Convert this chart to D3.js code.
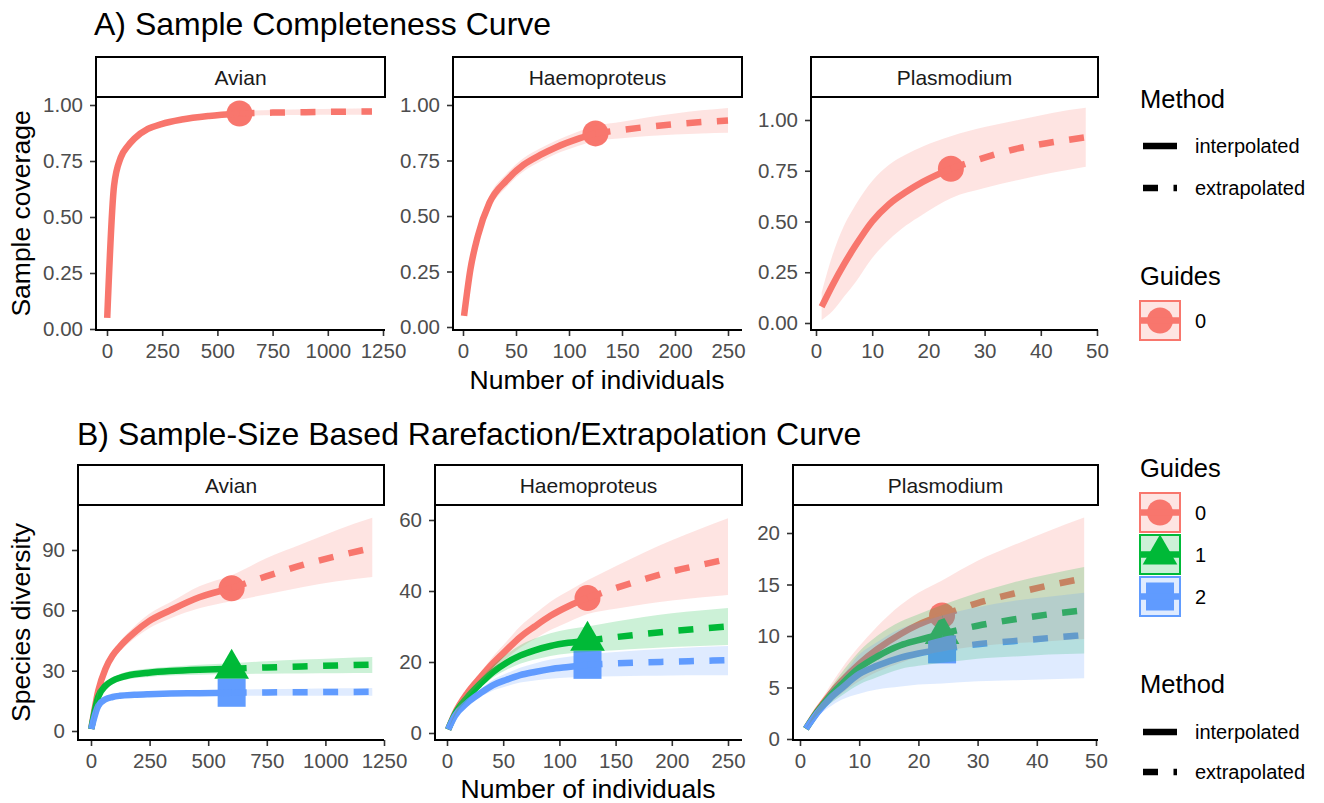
<!DOCTYPE html>
<html lang="en">
<head>
<meta charset="utf-8">
<title>Sample completeness and rarefaction curves</title>
<script src="https://d3js.org/d3.v7.min.js"></script>
<style>
body { margin: 0; background: #fff; }
svg text { font-family: "Liberation Sans", Arial, sans-serif; }
</style>
</head>
<body>
<svg width="1324" height="803"></svg>
<script>
// ---- data ----
var sites = ["Avian", "Haemoproteus", "Plasmodium"];
var refN = [600, 125, 24];              // observed sample sizes
var guideLabels = ["0", "1", "2"];
var guideColors = ["#F8766D", "#00BA38", "#619CFF"];
var methodLabels = ["interpolated", "extrapolated"];

var xTicksAvian = [0, 250, 500, 750, 1000, 1250];
var xTicksHaemo = [0, 50, 100, 150, 200, 250];
var xTicksPlas = [0, 10, 20, 30, 40, 50];
var covTicks = [0, 0.25, 0.5, 0.75, 1];
var divTicksAvian = [0, 30, 60, 90];
var divTicksHaemo = [0, 20, 40, 60];
var divTicksPlas = [0, 5, 10, 15, 20];

// A) sample coverage
var covAvianN  = [1, 32, 62, 93, 124, 185, 247, 339, 462, 600, 750, 900, 1050, 1200];
var covAvianSC = [0.05, 0.64, 0.765, 0.815, 0.85, 0.893, 0.915, 0.935, 0.951, 0.962, 0.966, 0.968, 0.970, 0.971];
var covAvianLo = [0.045, 0.625, 0.752, 0.803, 0.839, 0.883, 0.905, 0.926, 0.942, 0.952, 0.954, 0.955, 0.956, 0.957];
var covAvianHi = [0.055, 0.655, 0.778, 0.827, 0.861, 0.903, 0.925, 0.944, 0.960, 0.972, 0.978, 0.981, 0.983, 0.985];

var covHaemoN  = [1, 7, 14, 25, 41, 57, 73, 88, 107, 125, 150, 175, 200, 225, 250];
var covHaemoSC = [0.05, 0.26, 0.41, 0.56, 0.66, 0.73, 0.775, 0.81, 0.845, 0.872, 0.888, 0.902, 0.914, 0.923, 0.93];
var covHaemoLo = [0.04, 0.235, 0.38, 0.53, 0.63, 0.70, 0.745, 0.78, 0.813, 0.838, 0.85, 0.86, 0.867, 0.872, 0.875];
var covHaemoHi = [0.06, 0.285, 0.44, 0.59, 0.69, 0.76, 0.805, 0.84, 0.877, 0.906, 0.925, 0.945, 0.962, 0.976, 0.987];

var covPlasN  = [1, 3, 5, 7, 10, 13, 16, 19, 24, 30, 36, 42, 48];
var covPlasSC = [0.08, 0.19, 0.29, 0.38, 0.50, 0.585, 0.645, 0.695, 0.76, 0.815, 0.86, 0.89, 0.915];
var covPlasLo = [0.015, 0.06, 0.13, 0.20, 0.32, 0.41, 0.48, 0.535, 0.615, 0.665, 0.705, 0.74, 0.77];
var covPlasHi = [0.15, 0.34, 0.48, 0.58, 0.70, 0.78, 0.83, 0.87, 0.92, 0.965, 1.0, 1.035, 1.06];

// B) species diversity (q = 0, 1, 2)
var divAvianN    = [1, 31, 62, 92, 123, 185, 246, 338, 462, 600, 750, 900, 1050, 1200];
var divAvianQ0   = [1, 20, 31, 37.5, 42, 49, 54.5, 60, 66.5, 71, 77, 82.5, 87, 91];
var divAvianQ0Lo = [1, 19, 29.5, 35.5, 39.5, 46, 51, 56, 61, 64.5, 68, 71.5, 74.5, 76.6];
var divAvianQ0Hi = [1, 21, 32.5, 39.5, 44.5, 52, 58, 64, 72, 77.5, 86, 93, 100, 106];
var divAvianQ1   = [1, 17, 22.5, 25, 26.5, 28.2, 29, 29.8, 30.5, 31, 31.6, 32.1, 32.6, 33];
var divAvianQ1Lo = [1, 16, 21, 23.3, 24.7, 26.2, 26.9, 27.6, 28, 28.3, 28.5, 28.6, 28.7, 28.8];
var divAvianQ1Hi = [1, 18, 24, 26.7, 28.3, 30.2, 31.1, 32, 33, 33.7, 34.7, 35.5, 36.2, 36.8];
var divAvianQ2   = [1, 12.5, 15.8, 16.9, 17.5, 18, 18.3, 18.6, 18.8, 19, 19.2, 19.3, 19.4, 19.5];
var divAvianQ2Lo = [1, 11.8, 15, 16, 16.5, 16.9, 17.1, 17.3, 17.4, 17.5, 17.5, 17.5, 17.5, 17.5];
var divAvianQ2Hi = [1, 13.2, 16.6, 17.8, 18.5, 19.1, 19.5, 19.9, 20.2, 20.5, 20.8, 21, 21.2, 21.4];

var divHaemoN    = [1, 7, 18, 30, 41, 53, 65, 78, 92, 108, 125, 150, 175, 200, 225, 250];
var divHaemoQ0   = [1, 5.5, 11.2, 15.8, 19.7, 23.4, 27, 30, 33, 35.7, 38, 40.8, 43.3, 45.5, 47.3, 49];
var divHaemoQ0Lo = [1, 5, 10.2, 14.4, 17.8, 21, 24, 26.5, 29, 31.3, 33.5, 35, 36.3, 37.3, 38.2, 38.9];
var divHaemoQ0Hi = [1, 6, 12.2, 17.2, 21.6, 25.8, 30, 33.5, 37, 40, 43, 47, 50.8, 54.3, 57.5, 60.5];
var divHaemoQ1   = [1, 5.2, 10, 14, 17.2, 19.8, 21.8, 23.3, 24.5, 25.4, 26, 27, 27.9, 28.7, 29.4, 30];
var divHaemoQ1Lo = [1, 4.8, 9.3, 12.8, 15.6, 17.8, 19.5, 20.7, 21.7, 22.4, 22.8, 23.3, 23.8, 24.2, 24.5, 24.8];
var divHaemoQ1Hi = [1, 5.6, 10.8, 15.4, 19.1, 22.2, 24.7, 26.6, 28.1, 29.2, 30, 31.4, 32.7, 33.7, 34.5, 35.2];
var divHaemoQ2   = [1, 4.8, 8.5, 11.3, 13.5, 15, 16.3, 17.2, 18, 18.6, 19.2, 19.6, 19.9, 20.1, 20.3, 20.5];
var divHaemoQ2Lo = [1, 4.4, 7.8, 10.2, 12, 13.2, 14.2, 14.8, 15.3, 15.6, 15.8, 16, 16.1, 16.2, 16.25, 16.3];
var divHaemoQ2Hi = [1, 5.2, 9.2, 12.4, 15, 16.8, 18.4, 19.6, 20.7, 21.5, 22.2, 22.8, 23.4, 23.8, 24.2, 24.5];

var divPlasN    = [1, 3, 5, 7, 10, 13, 17, 20, 24, 30, 36, 42, 48];
var divPlasQ0   = [1, 2.8, 4.3, 5.6, 7.3, 8.7, 10.2, 11.1, 12, 13.2, 14.1, 14.9, 15.6];
var divPlasQ0Lo = [1, 2.4, 3.5, 4.4, 5.6, 6.5, 7.4, 8, 8.5, 9, 9.3, 9.5, 9.7];
var divPlasQ0Hi = [1, 3.2, 5.1, 6.8, 9.0, 10.9, 13, 14.2, 15.4, 17.3, 18.8, 20.2, 21.5];
var divPlasQ1   = [1, 2.7, 4.1, 5.3, 6.9, 8, 9.1, 9.6, 10.2, 11, 11.6, 12.1, 12.5];
var divPlasQ1Lo = [1, 2.4, 3.4, 4.2, 5.3, 6, 6.8, 7.1, 7.4, 7.8, 8, 8.2, 8.3];
var divPlasQ1Hi = [1, 3, 4.8, 6.4, 8.5, 10, 11.4, 12.1, 13, 14.2, 15.2, 16, 16.7];
var divPlasQ2   = [1, 2.6, 3.9, 4.9, 6.3, 7.1, 7.9, 8.3, 8.7, 9.2, 9.5, 9.8, 10.1];
var divPlasQ2Lo = [1, 2.2, 3.1, 3.8, 4.4, 4.8, 5.1, 5.3, 5.4, 5.6, 5.7, 5.8, 5.9];
var divPlasQ2Hi = [1, 3, 4.7, 6, 8.2, 9.4, 10.7, 11.3, 12, 12.8, 13.4, 13.8, 14.2];

// ---- layout (pixel boxes; scales pinned by two tick anchors) ----
var layoutA = [
  {left: 96,  right: 385,  top: 97, bottom: 330, xa: [0, 107, 1250, 383], ya: [0, 329, 1, 105]},
  {left: 453, right: 742,  top: 97, bottom: 330, xa: [0, 463, 250, 728],  ya: [0, 327, 1, 105]},
  {left: 811, right: 1098, top: 97, bottom: 330, xa: [0, 816, 50, 1097],  ya: [0, 323, 1, 120]}
];
var layoutB = [
  {left: 78,  right: 384,  top: 505, bottom: 740, xa: [0, 91, 1250, 384], ya: [0, 731, 90, 550]},
  {left: 435, right: 742,  top: 505, bottom: 740, xa: [0, 447, 250, 728], ya: [0, 733, 60, 520]},
  {left: 793, right: 1098, top: 505, bottom: 740, xa: [0, 800, 50, 1096], ya: [0, 739, 20, 533]}
];
var stripH = 40;
var tickFont = 20.5, titleFont = 26.5, lineW = 6.5;
var shapes = [d3.symbolCircle, d3.symbolTriangle, d3.symbolSquare];
var shapeSizes = [531, 520, 784];

var svg = d3.select("svg");

function makeCurve(n, y, lo, hi, k) {
  return {n: n, y: y, lo: lo, hi: hi, color: guideColors[k], shape: shapes[k], size: shapeSizes[k]};
}

function drawPanel(cfg, curves, ref, xt, yt, yfmt, label) {
  var g = svg.append("g");
  var x = d3.scaleLinear().domain([cfg.xa[0], cfg.xa[2]]).range([cfg.xa[1], cfg.xa[3]]);
  var y = d3.scaleLinear().domain([cfg.ya[0], cfg.ya[2]]).range([cfg.ya[1], cfg.ya[3]]);

  // reference points
  curves.forEach(function(c) {
    var i = c.n.indexOf(ref);
    g.append("path")
     .attr("transform", "translate(" + x(ref) + "," + y(c.y[i]) + ")")
     .attr("d", d3.symbol(c.shape, c.size)())
     .attr("fill", c.color);
  });

  // interpolated / extrapolated lines
  var line = d3.line().x(function(d) { return x(d[0]); })
                      .y(function(d) { return y(d[1]); })
                      .curve(d3.curveMonotoneX);
  curves.forEach(function(c) {
    var pts = c.n.map(function(n, i) { return [n, c.y[i]]; });
    g.append("path")
     .attr("d", line(pts.filter(function(p) { return p[0] <= ref; })))
     .attr("fill", "none").attr("stroke", c.color).attr("stroke-width", lineW);
    g.append("path")
     .attr("d", line(pts.filter(function(p) { return p[0] >= ref; })))
     .attr("fill", "none").attr("stroke", c.color).attr("stroke-width", lineW)
     .attr("stroke-dasharray", "15,15.5");
  });

  // confidence ribbons (drawn last, as in ggiNEXT)
  var area = d3.area().x(function(d) { return x(d[0]); })
                      .y0(function(d) { return y(d[1]); })
                      .y1(function(d) { return y(d[2]); })
                      .curve(d3.curveMonotoneX);
  curves.forEach(function(c) {
    var pts = c.n.map(function(n, i) { return [n, c.lo[i], c.hi[i]]; });
    g.append("path").attr("d", area(pts))
     .attr("fill", c.color).attr("fill-opacity", 0.2);
  });

  // axes
  var xa = g.append("g").attr("transform", "translate(0," + cfg.bottom + ")")
            .call(d3.axisBottom(x).tickValues(xt).tickSize(6).tickPadding(7).tickFormat(d3.format("d")));
  var ya = g.append("g").attr("transform", "translate(" + cfg.left + ",0)")
            .call(d3.axisLeft(y).tickValues(yt).tickSize(6).tickPadding(7).tickFormat(yfmt));
  [xa, ya].forEach(function(a) {
    a.select(".domain").remove();
    a.selectAll(".tick line").attr("stroke", "#333").attr("stroke-width", 1.6);
    a.selectAll(".tick text").attr("fill", "#4d4d4d")
     .style("font-size", tickFont + "px")
     .style("font-family", "'Liberation Sans', Arial, sans-serif");
  });
  g.append("path")
   .attr("d", "M" + cfg.left + "," + cfg.top + "V" + cfg.bottom + "H" + cfg.right)
   .attr("fill", "none").attr("stroke", "#000").attr("stroke-width", 2);

  // strip
  g.append("rect").attr("x", cfg.left).attr("y", cfg.top - stripH)
   .attr("width", cfg.right - cfg.left).attr("height", stripH)
   .attr("fill", "#fff").attr("stroke", "#000").attr("stroke-width", 2);
  g.append("text").attr("x", (cfg.left + cfg.right) / 2).attr("y", cfg.top - stripH / 2)
   .attr("dy", "0.36em").attr("text-anchor", "middle")
   .attr("font-size", 21).attr("fill", "#1a1a1a").text(label);
}

var fmt2 = d3.format(".2f");
var fmt0 = d3.format("d");

drawPanel(layoutA[0], [makeCurve(covAvianN, covAvianSC, covAvianLo, covAvianHi, 0)], refN[0], xTicksAvian, covTicks, fmt2, sites[0]);
drawPanel(layoutA[1], [makeCurve(covHaemoN, covHaemoSC, covHaemoLo, covHaemoHi, 0)], refN[1], xTicksHaemo, covTicks, fmt2, sites[1]);
drawPanel(layoutA[2], [makeCurve(covPlasN, covPlasSC, covPlasLo, covPlasHi, 0)], refN[2], xTicksPlas, covTicks, fmt2, sites[2]);

drawPanel(layoutB[0], [
  makeCurve(divAvianN, divAvianQ0, divAvianQ0Lo, divAvianQ0Hi, 0),
  makeCurve(divAvianN, divAvianQ1, divAvianQ1Lo, divAvianQ1Hi, 1),
  makeCurve(divAvianN, divAvianQ2, divAvianQ2Lo, divAvianQ2Hi, 2)
], refN[0], xTicksAvian, divTicksAvian, fmt0, sites[0]);
drawPanel(layoutB[1], [
  makeCurve(divHaemoN, divHaemoQ0, divHaemoQ0Lo, divHaemoQ0Hi, 0),
  makeCurve(divHaemoN, divHaemoQ1, divHaemoQ1Lo, divHaemoQ1Hi, 1),
  makeCurve(divHaemoN, divHaemoQ2, divHaemoQ2Lo, divHaemoQ2Hi, 2)
], refN[1], xTicksHaemo, divTicksHaemo, fmt0, sites[1]);
drawPanel(layoutB[2], [
  makeCurve(divPlasN, divPlasQ0, divPlasQ0Lo, divPlasQ0Hi, 0),
  makeCurve(divPlasN, divPlasQ1, divPlasQ1Lo, divPlasQ1Hi, 1),
  makeCurve(divPlasN, divPlasQ2, divPlasQ2Lo, divPlasQ2Hi, 2)
], refN[2], xTicksPlas, divTicksPlas, fmt0, sites[2]);

// ---- titles ----
svg.append("text").attr("x", 94).attr("y", 35).attr("font-size", 32)
   .text("A) Sample Completeness Curve");
svg.append("text").attr("x", 77).attr("y", 445).attr("font-size", 32)
   .text("B) Sample-Size Based Rarefaction/Extrapolation Curve");

svg.append("text").attr("transform", "translate(30,213.5) rotate(-90)")
   .attr("text-anchor", "middle").attr("font-size", titleFont).text("Sample coverage");
svg.append("text").attr("transform", "translate(30,622.5) rotate(-90)")
   .attr("text-anchor", "middle").attr("font-size", titleFont).text("Species diversity");
svg.append("text").attr("x", 597).attr("y", 389).attr("text-anchor", "middle")
   .attr("font-size", titleFont).text("Number of individuals");
svg.append("text").attr("x", 588).attr("y", 798).attr("text-anchor", "middle")
   .attr("font-size", titleFont).text("Number of individuals");

// ---- legends ----
var legX = 1140, keyW = 40, labelX = 1195;

function methodLegend(titleY, rowY) {
  svg.append("text").attr("x", legX).attr("y", titleY).attr("font-size", 25.5).text("Method");
  methodLabels.forEach(function(m, i) {
    var cy = rowY[i];
    svg.append("line").attr("x1", legX + 3).attr("x2", legX + 37)
       .attr("y1", cy).attr("y2", cy).attr("stroke", "#000").attr("stroke-width", lineW)
       .attr("stroke-dasharray", i === 0 ? null : "15,15.5");
    svg.append("text").attr("x", labelX).attr("y", cy).attr("dy", "0.35em")
       .attr("font-size", 20).text(m);
  });
}

function guideLegend(titleY, keyTop, count) {
  svg.append("text").attr("x", legX).attr("y", titleY).attr("font-size", 25.5).text("Guides");
  for (var k = 0; k < count; k++) {
    var top = keyTop + k * 42, cy = top + 19.5, cx = legX + keyW / 2;
    svg.append("path").attr("transform", "translate(" + cx + "," + cy + ")")
       .attr("d", d3.symbol(shapes[k], shapeSizes[k])()).attr("fill", guideColors[k]);
    svg.append("line").attr("x1", legX).attr("x2", legX + keyW).attr("y1", cy).attr("y2", cy)
       .attr("stroke", guideColors[k]).attr("stroke-width", lineW);
    svg.append("rect").attr("x", legX).attr("y", top).attr("width", keyW).attr("height", 39)
       .attr("fill", guideColors[k]).attr("fill-opacity", 0.2)
       .attr("stroke", guideColors[k]).attr("stroke-width", 2);
    svg.append("text").attr("x", labelX).attr("y", cy).attr("dy", "0.35em")
       .attr("font-size", 20).text(guideLabels[k]);
  }
}

methodLegend(108, [146, 188]);
guideLegend(285, 301, 1);
guideLegend(477, 493, 3);
methodLegend(693, [732, 772]);
</script>
</body>
</html>
